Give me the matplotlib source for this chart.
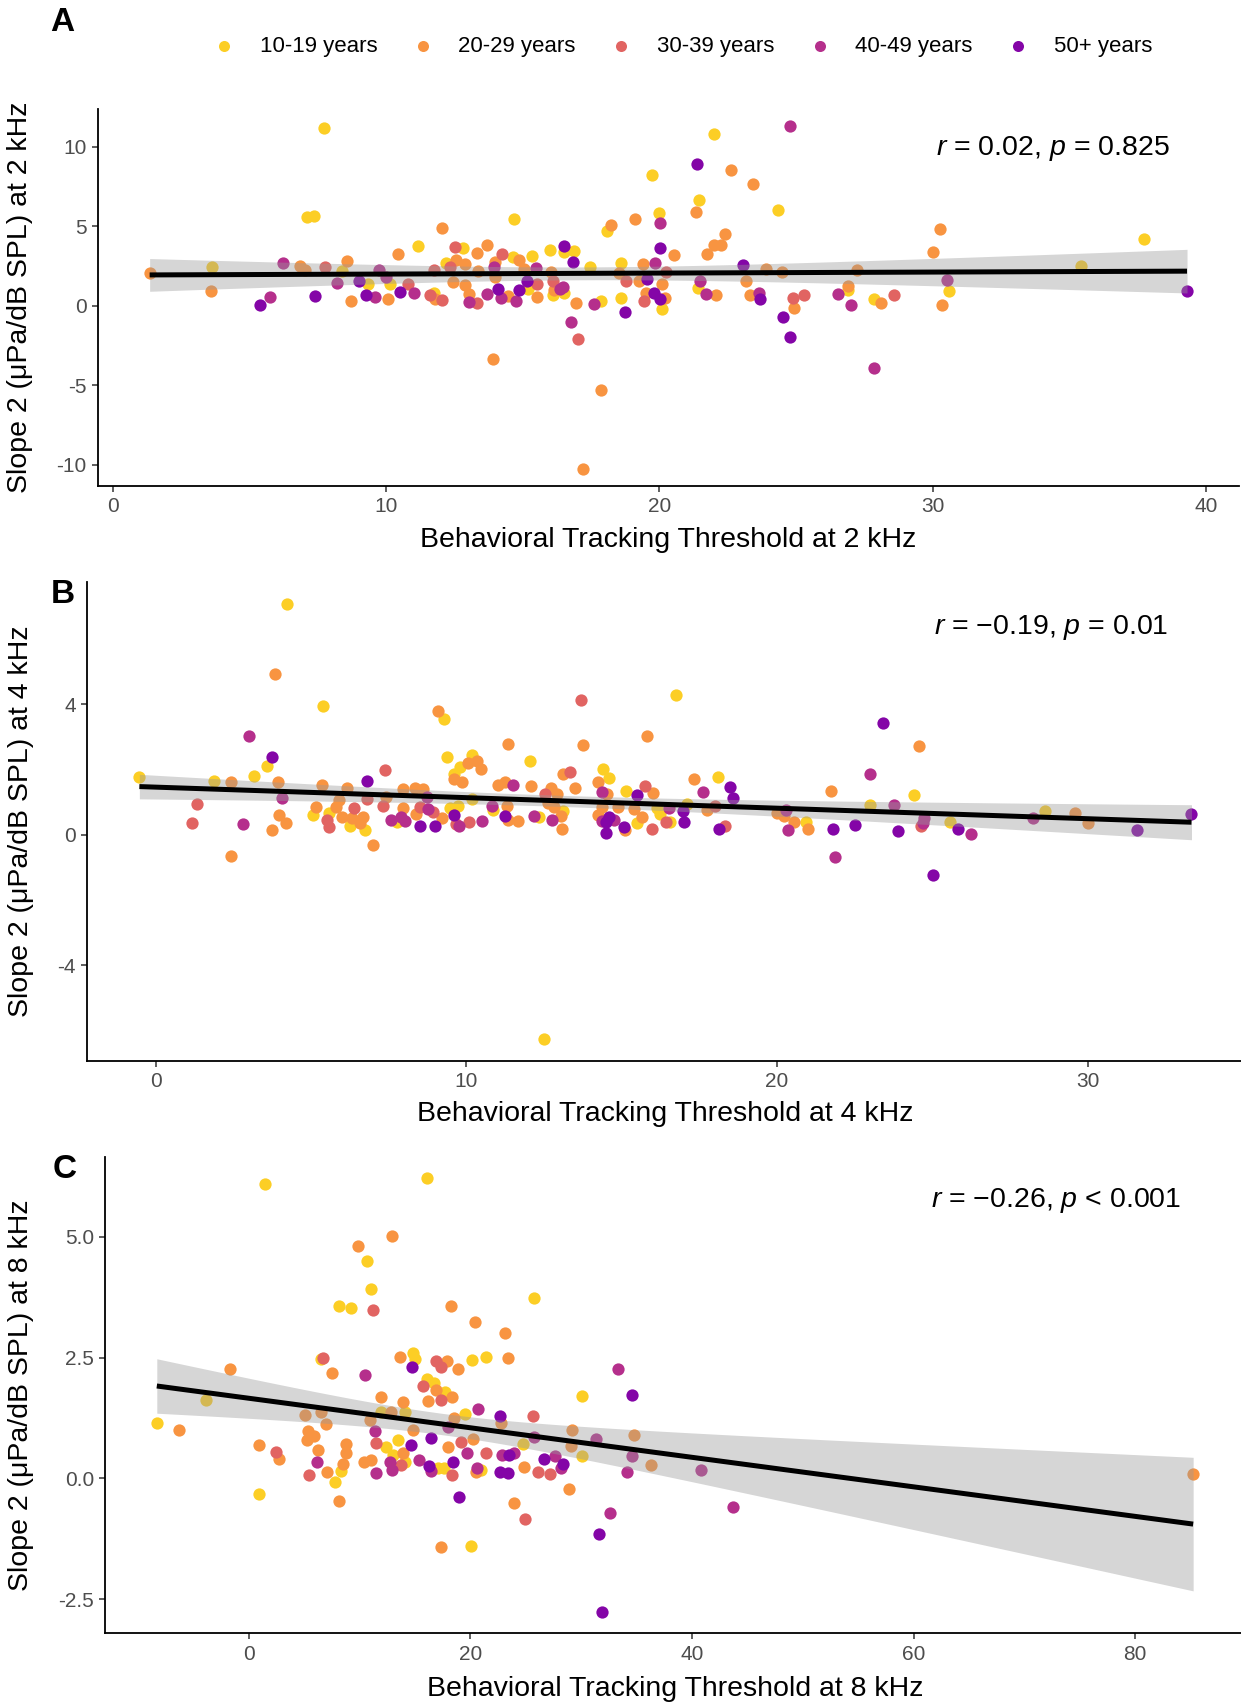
import numpy as np
import matplotlib
matplotlib.use("Agg")
import matplotlib.pyplot as plt

plt.rcParams["font.family"] = ["Liberation Sans", "DejaVu Sans"]
plt.rcParams["mathtext.fontset"] = "custom"
plt.rcParams["mathtext.rm"] = "Liberation Sans"
plt.rcParams["mathtext.it"] = "Liberation Sans:italic"
plt.rcParams["axes.unicode_minus"] = False

age_groups = ["10-19 years", "20-29 years", "30-39 years", "40-49 years", "50+ years"]
age_colors = ["#FCCE25", "#F89441", "#E16462", "#B52F8C", "#8405A7"]

# Panel A: 2 kHz  (age index into age_groups)
a_thresh = [1.35, 3.63, 3.59, 5.40, 5.75, 6.23, 6.84, 7.04, 7.09, 7.35, 7.73, 7.40, 7.78, 8.21, 8.37,
            8.57, 8.72, 9.02, 9.25, 9.34, 9.58, 9.75, 10.01, 10.07, 10.16, 10.44, 10.50, 10.81, 11.01,
            11.18, 11.60, 11.75, 11.76, 11.79, 12.05, 12.06, 12.18, 12.34, 12.44, 12.51, 12.57, 12.81,
            12.87, 12.90, 13.03, 13.03, 13.31, 13.33, 13.38, 13.68, 13.68, 13.90, 13.94, 13.98, 14.00,
            14.10, 14.20, 14.24, 14.46, 14.63, 14.69, 14.76, 14.85, 14.85, 15.05, 15.15, 15.18, 15.35,
            15.50, 15.53, 15.53, 16.00, 16.02, 16.09, 16.11, 16.15, 16.35, 16.48, 16.52, 16.52, 16.52,
            16.84, 16.87, 16.76, 16.95, 17.03, 17.21, 17.46, 17.61, 17.85, 17.86, 18.08, 18.21, 18.52,
            18.60, 18.60, 18.73, 18.76, 19.09, 19.25, 19.41, 19.42, 19.50, 19.54, 19.73, 19.80, 19.84,
            20.00, 20.01, 20.03, 20.10, 20.03, 20.10, 20.25, 20.22, 20.52, 21.35, 21.44, 21.37, 21.41,
            21.49, 21.70, 21.74, 22.01, 22.01, 22.07, 22.26, 22.40, 22.62, 23.04, 23.17, 23.30, 23.44,
            23.65, 23.68, 23.88, 24.32, 24.49, 24.52, 24.76, 24.77, 24.90, 24.91, 25.28, 26.53, 26.88,
            26.88, 27.02, 27.22, 27.84, 27.84, 28.11, 28.59, 30.01, 30.27, 30.34, 30.52, 30.61, 35.43,
            37.71, 39.30]
a_slope = [2.04, 2.44, 0.89, 0.07, 0.57, 2.71, 2.50, 2.25, 5.59, 5.62, 11.17, 0.61, 2.44, 1.45, 2.19,
           2.80, 0.30, 1.56, 0.68, 1.35, 0.55, 2.25, 1.77, 0.40, 1.35, 3.24, 0.86, 1.35, 0.82,
           3.72, 0.68, 0.82, 2.21, 0.40, 0.34, 4.86, 2.67, 2.44, 1.49, 3.66, 2.88, 3.64,
           1.28, 2.59, 0.72, 0.24, 0.15, 3.30, 2.19, 3.83, 0.76, -3.36, 2.40, 2.76, 1.77,
           1.07, 0.46, 3.24, 0.61, 3.03, 5.45, 0.26, 0.97, 2.86, 2.29, 1.56, 1.03, 3.09,
           2.35, 1.35, 0.57, 3.51, 2.12, 1.56, 0.65, 0.99, 1.03, 1.14, 3.76, 3.34, 0.78,
           2.76, 3.45, -1.03, 0.15, -2.08, -10.25, 2.42, 0.09, -5.31, 0.26, 4.67, 5.09, 2.04,
           2.71, 0.45, -0.40, 1.56, 5.45, 1.56, 2.61, 0.30, 0.82, 1.66, 8.21, 0.82, 2.71,
           5.80, 5.19, 3.60, 1.35, 0.40, -0.19, 2.12, 0.51, 3.17, 5.87, 6.65, 8.89, 1.09,
           1.56, 0.72, 3.22, 10.80, 3.80, 0.65, 3.82, 4.50, 8.51, 2.57, 1.56, 0.68, 7.67,
           0.82, 0.40, 2.29, 6.01, 2.14, -0.69, 11.28, -1.95, 0.51, -0.12, 0.68, 0.72, 1.24,
           0.99, 0.03, 2.25, 0.40, -3.90, 0.15, 0.65, 3.40, 4.81, 0.03, 1.63, 0.89, 2.46,
           4.18, 0.91]
a_age = [1, 0, 1, 4, 3, 3, 1, 1, 0, 0, 0, 4, 2, 3, 0,
         1, 1, 4, 4, 0, 3, 3, 3, 1, 0, 1, 4, 2, 3,
         0, 2, 0, 2, 1, 2, 1, 0, 2, 1, 2, 1, 0,
         1, 1, 1, 3, 2, 1, 1, 1, 3, 1, 3, 1, 1,
         4, 3, 2, 1, 0, 0, 3, 4, 1, 1, 4, 0, 0,
         3, 2, 1, 0, 1, 2, 0, 1, 3, 3, 4, 0, 0,
         4, 0, 3, 1, 2, 1, 0, 3, 1, 0, 0, 1, 1,
         0, 0, 4, 2, 1, 1, 1, 2, 1, 4, 0, 4, 3,
         0, 3, 4, 1, 4, 0, 2, 1, 1, 1, 0, 4, 0,
         3, 3, 1, 0, 1, 1, 1, 1, 1, 4, 1, 1, 1,
         3, 4, 1, 0, 1, 4, 3, 4, 2, 1, 2, 3, 1,
         0, 3, 1, 0, 3, 1, 2, 1, 1, 1, 3, 0, 0,
         0, 4]

# Panel B: 4 kHz
b_thresh = [-0.52, 1.17, 1.32, 1.88, 2.42, 2.42, 2.83, 3.00, 3.17, 3.60, 3.76, 3.84, 3.76, 3.93, 3.99,
            4.08, 4.19, 4.22, 5.08, 5.16, 5.37, 5.38, 5.52, 5.57, 5.58, 5.81, 5.91, 6.01, 6.16, 6.25,
            6.31, 6.40, 6.57, 6.67, 6.73, 6.81, 6.82, 7.00, 7.32, 7.38, 7.42, 7.59, 7.76, 7.90, 7.98,
            7.98, 8.02, 8.36, 8.38, 8.51, 8.51, 8.62, 8.75, 8.77, 8.94, 9.01, 9.08, 9.23, 9.29, 9.38,
            9.48, 9.60, 9.62, 9.75, 9.59, 9.66, 9.77, 9.81, 9.86, 10.06, 10.09, 10.20, 10.19, 10.35,
            10.49, 10.52, 10.84, 10.86, 11.01, 11.24, 11.24, 11.33, 11.32, 11.35, 11.50, 11.67, 12.04,
            12.09, 12.17, 12.35, 12.50, 12.52, 12.64, 12.72, 12.75, 12.92, 12.81, 13.04, 13.07, 13.11,
            13.11, 13.34, 13.51, 13.68, 13.75, 14.24, 14.25, 14.36, 14.39, 14.53, 14.58, 14.36, 14.36,
            14.51, 14.51, 14.59, 14.76, 14.88, 15.07, 15.10, 15.14, 15.41, 15.50, 15.49, 15.65, 15.74,
            15.82, 15.99, 16.02, 16.13,
            16.75, 17.33, 18.09, 17.61, 18.50, 18.59, 16.99, 17.00, 17.10, 17.75, 18.02, 18.12, 18.34,
            16.53, 16.43, 16.57, 16.24, 19.99, 20.21, 20.28, 20.35, 20.55, 20.93, 21.01, 21.75, 21.80,
            21.88, 22.51, 23.00, 23.00, 23.42, 23.76, 23.90, 24.42, 24.57, 24.65, 24.70, 24.74, 25.02,
            25.57, 25.83, 26.26, 28.25, 28.62, 29.58, 30.01, 31.59, 33.34]
b_slope = [1.78, 0.35, 0.93, 1.66, 1.61, -0.64, 0.33, 3.02, 1.81, 2.10, 2.37, 4.94, 0.15, 1.62, 0.60,
           1.14, 0.35, 7.08, 0.61, 0.84, 1.53, 3.96, 0.45, 0.23, 0.68, 0.86, 1.06, 0.55, 1.42, 0.27,
           0.50, 0.83, 0.35, 0.55, 0.16, 1.64, 1.11, -0.30, 0.89, 1.99, 1.15, 0.45, 0.38, 0.55, 0.83,
           1.39, 0.42, 1.44, 0.63, 0.26, 0.86, 1.40, 1.17, 0.78, 0.70, 0.27, 3.80, 0.53, 3.55, 2.38,
           0.83, 1.71, 1.86, 0.89, 0.60, 0.33, 0.28, 2.09, 1.61, 2.19, 0.40, 2.45, 1.11, 2.27,
           2.02, 0.43, 0.89, 0.76, 1.53, 0.58, 1.62, 2.78, 0.89, 0.45, 1.53, 0.43, 2.26,
           1.51, 0.57, 0.55, -6.27, 1.25, 0.96, 1.44, 0.45, 1.24, 0.86, 0.58, 0.19, 0.74,
           1.86, 1.93, 1.42, 4.14, 2.76, 1.61, 0.60, 1.32, 2.02, 1.24, 1.75, 0.86, 0.43,
           0.38, 0.04, 0.55, 0.45, 0.84, 0.24, 0.16, 1.34, 0.79, 1.22, 0.35, 0.55, 1.50,
           3.04, 0.17, 1.29, 0.81,
           4.29, 1.71, 1.76, 1.30, 1.45, 1.12, 0.74, 0.40, 0.93, 0.76, 0.89, 0.17, 0.27,
           0.83, 0.38, 0.38, 0.65, 0.68, 0.58, 0.76, 0.14, 0.38, 0.40, 0.17, 1.35, 0.19,
           -0.68, 0.30, 1.86, 0.91, 3.42, 0.91, 0.13, 1.22, 2.73, 0.27, 0.35, 0.50, -1.24,
           0.40, 0.17, 0.01, 0.50, 0.73, 0.68, 0.35, 0.16, 0.65]
b_age = [0, 2, 2, 0, 1, 1, 3, 3, 0, 0, 4, 1, 1, 1, 1,
         3, 1, 0, 0, 1, 1, 0, 2, 2, 0, 1, 1, 1, 1, 0,
         1, 2, 1, 1, 0, 4, 2, 1, 2, 2, 1, 3, 0, 3, 1,
         1, 3, 1, 1, 4, 2, 1, 3, 3, 2, 4, 1, 1, 0, 0,
         0, 1, 0, 0, 4, 2, 3, 0, 1, 1, 2, 0, 0, 1,
         1, 3, 3, 0, 1, 4, 1, 1, 1, 1, 3, 1, 0,
         1, 3, 0, 0, 2, 1, 1, 3, 1, 1, 1, 1, 0,
         1, 2, 1, 2, 1, 1, 1, 3, 0, 1, 0, 1, 3,
         4, 4, 4, 3, 1, 4, 1, 0, 1, 4, 0, 1, 2,
         1, 2, 1, 0,
         0, 1, 0, 3, 4, 4, 4, 4, 0, 1, 2, 4, 2,
         3, 2, 0, 0, 1, 1, 3, 3, 1, 0, 1, 1, 4,
         3, 4, 3, 0, 4, 3, 4, 0, 1, 2, 3, 3, 4,
         0, 4, 3, 3, 0, 1, 1, 4, 4]

# Panel C: 8 kHz
c_thresh = [-8.28, -6.26, -3.82, -1.70, 0.93, 0.93, 1.44, 2.47, 2.73, 5.07, 5.33, 5.26, 5.46, 5.87, 6.20,
            6.29, 6.52, 6.68, 6.55, 6.97, 7.09, 7.51, 7.83, 8.12, 8.12, 8.35, 8.54, 8.83, 8.83, 9.21,
            9.89, 10.37, 10.50, 10.69, 10.91, 11.01, 11.08, 11.27, 11.40, 11.49, 11.49, 11.97, 11.91,
            12.39, 12.74, 12.87, 12.91, 12.94, 13.03, 13.52, 13.68, 13.74, 13.90, 13.96, 14.15, 14.15,
            14.64, 14.70, 14.86, 15.02, 14.80, 15.35, 15.70, 16.08, 16.08, 16.15, 16.31, 16.47, 16.47,
            16.73, 16.89, 16.92, 17.11, 17.37, 17.37, 17.37, 17.59, 17.69, 17.91, 18.01, 18.01, 18.23,
            18.33, 18.39, 18.46, 18.56, 18.88, 18.97, 19.13, 19.55, 19.68, 20.06, 20.16, 20.26, 20.42,
            20.48, 20.64, 20.71, 20.96, 21.38, 21.44, 22.66, 22.73, 22.66, 22.89, 23.15, 23.37, 23.37,
            23.47, 23.92, 23.95, 24.82, 24.91, 24.72, 25.62, 25.71, 25.71, 26.10, 26.68, 27.16, 27.64,
            28.19, 28.35, 28.92, 29.15, 29.09, 30.11, 30.11, 31.33, 31.62, 31.88, 32.62, 33.32, 34.13,
            34.61, 34.61, 34.77, 36.31, 40.86, 43.73, 85.22]
c_slope = [1.14, 1.01, 1.63, 2.26, 0.68, -0.32, 6.08, 0.55, 0.40, 1.31, 0.98, 0.79, 0.07, 0.88, 0.34,
           0.59, 2.46, 2.50, 1.37, 1.12, 0.14, 2.19, -0.07, -0.46, 3.57, 0.16, 0.30, 0.72, 0.52, 3.53,
           4.81, 0.34, 2.13, 4.50, 1.21, 0.39, 3.91, 3.48, 0.99, 0.74, 0.12, 1.68, 1.38,
           0.64, 0.34, 1.37, 5.01, 0.17, 0.48, 0.79, 2.52, 0.28, 1.59, 0.53, 1.37, 0.34,
           0.70, 2.30, 2.59, 2.47, 1.00, 0.39, 1.91, 6.21, 2.05, 1.61, 0.26, 0.16, 0.83,
           1.98, 1.83, 2.43, 0.21, 2.30, 1.62, -1.43, 0.21, 1.79, 2.43, 0.64, 1.07, 3.57,
           1.68, 0.07, 0.34, 1.24, 2.26, -0.38, 0.76, 1.34, 0.53, -1.40, 2.45, 0.81, 3.24,
           0.14, 0.21, 1.43, 0.17, 2.52, 0.52, 1.29, 1.14, 0.14, 0.48, 3.00, 2.50, 0.12,
           0.48, -0.52, 0.53, 0.23, -0.85, 0.72, 1.29, 3.74, 0.85, 0.14, 0.40, 0.10, 0.46,
           0.21, 0.30, -0.23, 1.00, 0.66, 0.46, 1.70, 0.82, -1.16, -2.76, -0.71, 2.26, 0.14,
           1.72, 0.46, 0.90, 0.28, 0.17, -0.59, 0.08]
c_age = [0, 1, 0, 1, 1, 0, 0, 2, 1, 1, 1, 1, 2, 1, 3,
         1, 0, 2, 1, 1, 1, 1, 0, 1, 0, 0, 1, 1, 1, 0,
         1, 1, 3, 0, 1, 1, 0, 2, 3, 2, 3, 1, 0,
         0, 3, 1, 1, 3, 0, 0, 1, 2, 1, 1, 0, 0,
         4, 4, 0, 0, 1, 3, 2, 0, 0, 1, 4, 3, 4,
         0, 1, 2, 0, 2, 2, 1, 0, 0, 1, 1, 3, 1,
         1, 2, 4, 1, 1, 4, 2, 0, 3, 0, 0, 1, 1,
         1, 3, 3, 0, 0, 2, 4, 1, 4, 3, 1, 1, 4,
         4, 1, 3, 1, 2, 0, 2, 0, 3, 2, 4, 2, 3,
         3, 4, 1, 1, 1, 0, 0, 3, 4, 4, 3, 3, 3,
         4, 3, 1, 1, 3, 3, 1]

panels = [
    dict(tag="A", freq="2", x=a_thresh, y=a_slope, age=a_age,
         stat=r"$r$ = 0.02, $p$ = 0.825",
         rect=[0.0788, 0.7149, 0.9195, 0.2211],
         xticks=[0, 10, 20, 30, 40], yticks=[-10, -5, 0, 5, 10], yfmt="{:g}",
         ylab_x=-0.057, xlab_y=-0.109, stat_xy=(0.735, 0.894), tag_xy=(0.050, 0.987)),
    dict(tag="B", freq="4", x=b_thresh, y=b_slope, age=b_age,
         stat="$r$ = \u22120.19, $p$ = 0.01",
         rect=[0.0699, 0.3773, 0.9326, 0.2811],
         xticks=[0, 10, 20, 30], yticks=[-4, 0, 4], yfmt="{:g}",
         ylab_x=-0.0455, xlab_y=-0.0835, stat_xy=(0.7317, 0.906), tag_xy=(0.0508, 0.651)),
    dict(tag="C", freq="8", x=c_thresh, y=c_slope, age=c_age,
         stat="$r$ = \u22120.26, $p$ < 0.001",
         rect=[0.0846, 0.0414, 0.9186, 0.2799],
         xticks=[0, 20, 40, 60, 80], yticks=[-2.5, 0.0, 2.5, 5.0], yfmt="{:.1f}",
         ylab_x=-0.062, xlab_y=-0.0893, stat_xy=(0.7248, 0.907), tag_xy=(0.0524, 0.3134)),
]


def lm_band(x, y, t=1.97):
    x = np.asarray(x)
    y = np.asarray(y)
    n = len(x)
    slope, icpt = np.polyfit(x, y, 1)
    xs = np.linspace(x.min(), x.max(), 100)
    fit = icpt + slope * xs
    resid = y - (icpt + slope * x)
    s = np.sqrt(np.sum(resid ** 2) / (n - 2))
    sxx = np.sum((x - x.mean()) ** 2)
    se = s * np.sqrt(1.0 / n + (xs - x.mean()) ** 2 / sxx)
    return xs, fit, t * se


fig = plt.figure(figsize=(12.41, 17.04), dpi=100)

for p in panels:
    ax = fig.add_axes(p["rect"])
    x = np.asarray(p["x"])
    y = np.asarray(p["y"])
    age = np.asarray(p["age"])
    for i, grp in enumerate(age_groups):
        m = age == i
        ax.scatter(x[m], y[m], s=78, color=age_colors[i], linewidths=0, label=grp, zorder=2)

    xs, fit, ci = lm_band(x, y)
    ax.fill_between(xs, fit - ci, fit + ci, color="#999999", alpha=0.4, linewidth=0, zorder=3)
    ax.plot(xs, fit, color="black", linewidth=3.6, zorder=4, solid_capstyle="butt")

    # ggplot-like 5% expansion
    ylo = min(y.min(), (fit - ci).min())
    yhi = max(y.max(), (fit + ci).max())
    xr = x.max() - x.min()
    yr = yhi - ylo
    ax.set_xlim(x.min() - 0.05 * xr, x.max() + 0.05 * xr)
    ax.set_ylim(ylo - 0.05 * yr, yhi + 0.05 * yr)

    ax.set_xticks(p["xticks"])
    ax.set_yticks(p["yticks"])
    ax.set_yticklabels([p["yfmt"].format(v) for v in p["yticks"]])
    ax.tick_params(labelsize=15, labelcolor="#4D4D4D", color="#333333", length=4.5, width=1.1)
    for side in ["top", "right"]:
        ax.spines[side].set_visible(False)
    for side in ["left", "bottom"]:
        ax.spines[side].set_linewidth(1.3)
        ax.spines[side].set_color("black")

    ax.set_xlabel("Behavioral Tracking Threshold at %s kHz" % p["freq"], fontsize=20.5)
    ax.set_ylabel("Slope 2 (\u03bcPa/dB SPL) at %s kHz" % p["freq"], fontsize=20.5)
    ax.xaxis.set_label_coords(0.5, p["xlab_y"])
    ax.yaxis.set_label_coords(p["ylab_x"], 0.5)

    ax.text(p["stat_xy"][0], p["stat_xy"][1], p["stat"], transform=ax.transAxes,
            fontsize=20.5, ha="left", va="center")
    fig.text(p["tag_xy"][0], p["tag_xy"][1], p["tag"], fontsize=24, fontweight="bold",
             ha="center", va="center")

    if p["tag"] == "A":
        handles, labels = ax.get_legend_handles_labels()

fig.legend(handles, labels, loc="center", bbox_to_anchor=(0.550, 0.973), ncol=5,
           frameon=False, fontsize=16, handlelength=1.0, handletextpad=1.1,
           columnspacing=1.55, scatterpoints=1, markerscale=0.9)

fig.savefig("out.png", dpi=100)
